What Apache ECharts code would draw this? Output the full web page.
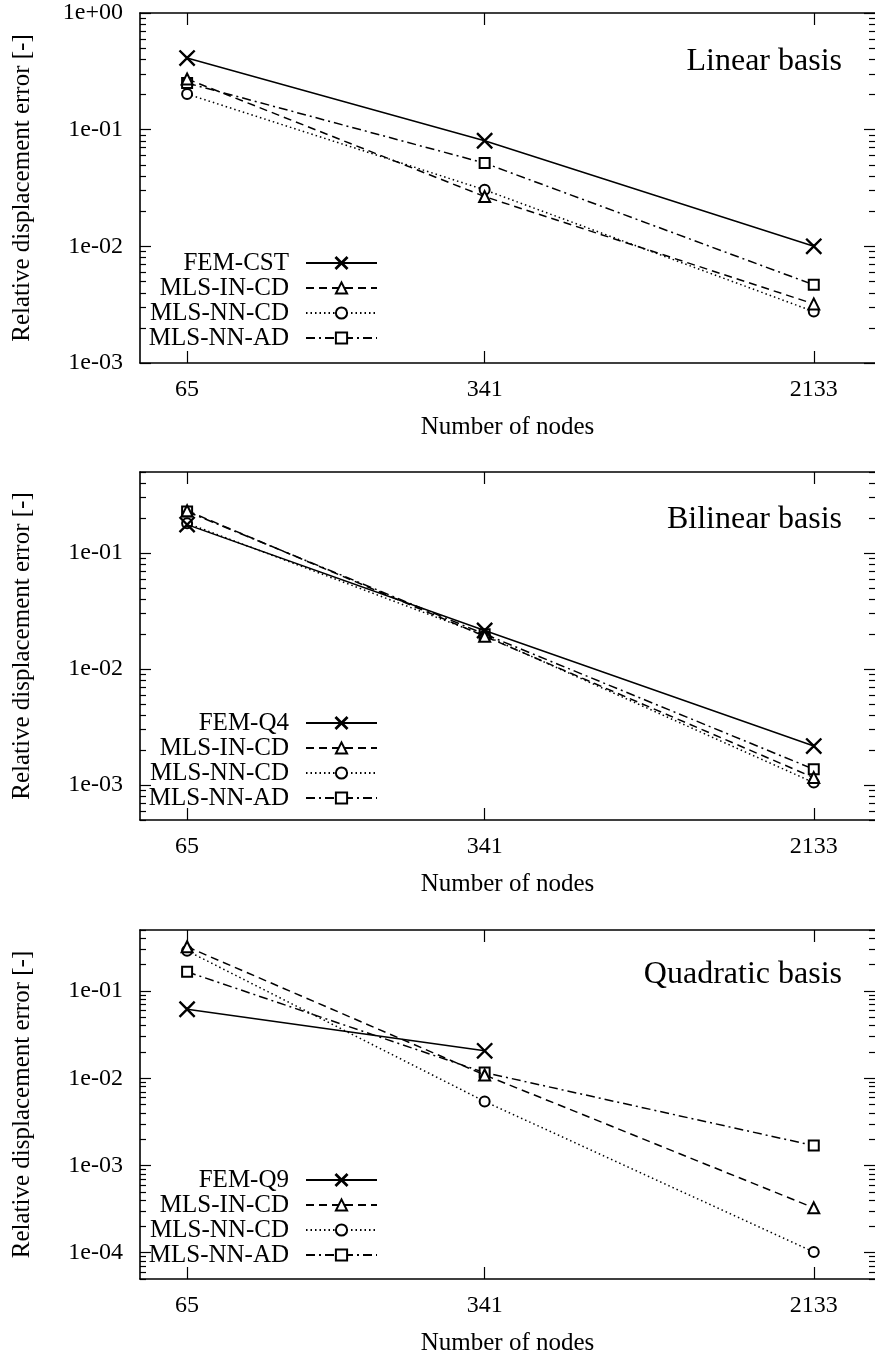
<!DOCTYPE html>
<html><head><meta charset="utf-8">
<script src="https://cdn.jsdelivr.net/npm/echarts@6/dist/echarts.min.js"></script>
<style>html,body{margin:0;padding:0;background:#fff}#c{width:875px;height:1357px}</style>
</head><body><div id="c"></div>
<script>
// ---- data ----
const nodes = [65, 341, 2133];
const xTickValues = [65, 341, 2133];
const seriesNames = ['MLS-IN-CD', 'MLS-NN-CD', 'MLS-NN-AD'];
const femNames = ['FEM-CST', 'FEM-Q4', 'FEM-Q9'];
const panelTitles = ['Linear basis', 'Bilinear basis', 'Quadratic basis'];
const xTitle = 'Number of nodes';
const yTitle = 'Relative displacement error [-]';

// Linear basis
const linFEM  = [0.411, 0.0803, 0.0100];
const linINCD = [0.272, 0.0267, 0.00321];
const linNNCD = [0.202, 0.0305, 0.00276];
const linNNAD = [0.251, 0.0517, 0.00468];
// Bilinear basis
const bilFEM  = [0.176, 0.0215, 0.00217];
const bilINCD = [0.232, 0.0192, 0.00116];
const bilNNCD = [0.181, 0.0195, 0.00105];
const bilNNAD = [0.228, 0.0200, 0.00137];
// Quadratic basis
const quaFEM  = [0.0618, 0.0206, null];
const quaINCD = [0.321, 0.0109, 0.000327];
const quaNNCD = [0.289, 0.00542, 0.000102];
const quaNNAD = [0.166, 0.0116, 0.00169];

// y tick values
const yMajor1 = [1e-3, 1e-2, 1e-1, 1];
const yMajor2 = [1e-3, 1e-2, 1e-1];
const yMajor3 = [1e-4, 1e-3, 1e-2, 1e-1];
const yRange1 = [1e-3, 1];
const yRange2 = [5e-4, 0.5];
const yRange3 = [5e-5, 0.5];
const xRange = [50, 3000];

function minorTicks(range) {
  const out = [];
  for (let e = -6; e <= 1; e++) {
    for (let m = 2; m <= 9; m++) {
      const v = m * Math.pow(10, e);
      if (v >= range[0] * 0.999 && v <= range[1] * 1.001) out.push(v);
    }
  }
  return out;
}
function fmtExp(v) {
  const e = Math.round(Math.log10(v));
  const a = Math.abs(e);
  return '1e' + (e < 0 ? '-' : '+') + (a < 10 ? '0' : '') + a;
}

const FONT = 'Liberation Serif';
const panels = [
  {top: 13, height: 350, yRange: yRange1, majors: yMajor1, data: [linFEM, linINCD, linNNCD, linNNAD], legendTop: 250.5, titleY: 62},
  {top: 472, height: 348, yRange: yRange2, majors: yMajor2, data: [bilFEM, bilINCD, bilNNCD, bilNNAD], legendTop: 710.5, titleY: 520},
  {top: 930, height: 349, yRange: yRange3, majors: yMajor3, data: [quaFEM, quaINCD, quaNNCD, quaNNAD], legendTop: 1167.5, titleY: 975}
];

const styles = [
  {symbol: 'path://M0,0.05L0.05,0L0.5,0.45L0.95,0L1,0.05L0.55,0.5L1,0.95L0.95,1L0.5,0.55L0.05,1L0,0.95L0.45,0.5Z', symbolSize: 15, type: 'solid'},
  {symbol: 'emptyTriangle', symbolSize: 11, type: [8, 5]},
  {symbol: 'emptyCircle', symbolSize: 10, type: [1.5, 3]},
  {symbol: 'emptyRect', symbolSize: 10, type: [9, 4, 2, 4]}
];

const axisLine = {show: true, onZero: false, lineStyle: {color: '#000', width: 1.6}};
const tickStyle = {color: '#000', width: 1.2};

const option = {
  backgroundColor: '#fff',
  animation: false,
  textStyle: {fontFamily: FONT, color: '#000'},
  grid: [], xAxis: [], yAxis: [], series: [], legend: [], graphic: []
};

panels.forEach((p, i) => {
  option.grid.push({left: 140, width: 737, top: p.top, height: p.height});
  const minors = minorTicks(p.yRange);
  // x axes
  option.xAxis.push({
    type: 'log', gridIndex: i, min: xRange[0], max: xRange[1], position: 'bottom',
    name: xTitle, nameLocation: 'middle', nameGap: 52,
    nameTextStyle: {fontSize: 25, fontFamily: FONT, color: '#000'},
    axisLine: axisLine,
    axisTick: {inside: true, length: 12, customValues: xTickValues, lineStyle: tickStyle},
    axisLabel: {customValues: xTickValues, fontSize: 24, fontFamily: FONT, color: '#000', margin: 15,
      formatter: v => String(Math.round(v))},
    splitLine: {show: false}
  });
  option.xAxis.push({
    type: 'log', gridIndex: i, min: xRange[0], max: xRange[1], position: 'top',
    axisLine: axisLine,
    axisTick: {inside: true, length: 12, customValues: xTickValues, lineStyle: tickStyle},
    axisLabel: {show: false}, splitLine: {show: false}
  });
  // y axes
  option.yAxis.push({
    type: 'log', gridIndex: i, min: p.yRange[0], max: p.yRange[1], position: 'left',
    name: yTitle, nameLocation: 'middle', nameGap: 105,
    nameTextStyle: {fontSize: 25, fontFamily: FONT, color: '#000'},
    axisLine: axisLine,
    axisTick: {inside: true, length: 11, customValues: p.majors, lineStyle: tickStyle},
    axisLabel: {customValues: p.majors, fontSize: 24, fontFamily: FONT, color: '#000', margin: 17, formatter: fmtExp},
    splitLine: {show: false}
  });
  option.yAxis.push({
    type: 'log', gridIndex: i, min: p.yRange[0], max: p.yRange[1], position: 'left',
    axisLine: {show: false},
    axisTick: {inside: true, length: 6, customValues: minors, lineStyle: tickStyle},
    axisLabel: {show: false}, splitLine: {show: false}
  });
  option.yAxis.push({
    type: 'log', gridIndex: i, min: p.yRange[0], max: p.yRange[1], position: 'right',
    axisLine: {show: false},
    axisTick: {inside: true, length: 11, customValues: p.majors, lineStyle: tickStyle},
    axisLabel: {show: false}, splitLine: {show: false}
  });
  option.yAxis.push({
    type: 'log', gridIndex: i, min: p.yRange[0], max: p.yRange[1], position: 'right',
    axisLine: {show: false},
    axisTick: {inside: true, length: 6, customValues: minors, lineStyle: tickStyle},
    axisLabel: {show: false}, splitLine: {show: false}
  });
  const names = [femNames[i]].concat(seriesNames);
  names.forEach((nm, k) => {
    const st = styles[k];
    option.series.push({
      type: 'line', name: nm, xAxisIndex: 2 * i, yAxisIndex: 4 * i,
      data: nodes.map((n, j) => [n, p.data[k][j]]),
      symbol: st.symbol, symbolSize: st.symbolSize, showSymbol: true,
      lineStyle: {color: '#000', width: 1.5, type: st.type},
      itemStyle: {color: '#000', borderColor: '#000', borderWidth: 1.3},
      emphasis: {disabled: true}, z: 5 - k
    });
  });
  option.legend.push({
    orient: 'vertical', right: 497, top: p.legendTop, padding: 0, itemGap: 0,
    itemWidth: 71, itemHeight: 14, align: 'right', selectedMode: false,
    data: names,
    textStyle: {fontSize: 25, fontFamily: FONT, color: '#000', lineHeight: 25, padding: [0, 12, 0, 0]}
  });
  option.graphic.push({
    type: 'text', x: 842, y: p.titleY,
    style: {text: panelTitles[i], font: '32px "Liberation Serif"', fill: '#000', align: 'right', verticalAlign: 'middle'}
  });
});

const chart = echarts.init(document.getElementById('c'), null, {renderer: 'canvas'});
chart.setOption(option);
</script>
</body></html>
